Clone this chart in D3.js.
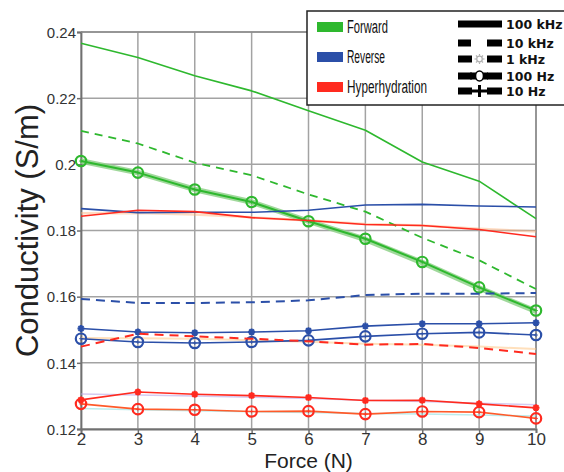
<!DOCTYPE html>
<html>
<head>
<meta charset="utf-8">
<script src="https://cdn.jsdelivr.net/npm/d3@7"></script>
<style>
  html, body { margin: 0; padding: 0; background: #fff; }
  svg { display: block; }
</style>
</head>
<body>
<svg id="chart" width="564" height="472"></svg>
<script>
// ---------- data ----------
const forces = [2, 3, 4, 5, 6, 7, 8, 9, 10];
const yTicks = [0.12, 0.14, 0.16, 0.18, 0.20, 0.22, 0.24];
const yTickLabels = ["0.12", "0.14", "0.16", "0.18", "0.2", "0.22", "0.24"];
const legendGroups = ["Forward", "Reverse", "Hyperhydration"];
const legendFreqs = ["100 kHz", "10 kHz", "1 kHz", "100 Hz", "10 Hz"];

// Forward (green)
const fwd100k = [0.2366, 0.2323, 0.2268, 0.2222, 0.2162, 0.2103, 0.2007, 0.1949, 0.1836];
const fwd10k  = [0.2101, 0.2063, 0.2005, 0.1967, 0.1909, 0.1857, 0.1778, 0.1710, 0.1623];
const fwd1k   = [0.2010, 0.1975, 0.1924, 0.1886, 0.1828, 0.1773, 0.1703, 0.1626, 0.1556];
const fwd100  = [0.2010, 0.1975, 0.1924, 0.1886, 0.1828, 0.1775, 0.1705, 0.1628, 0.1558];
// Reverse (blue)
const rev100k = [0.1866, 0.1854, 0.1855, 0.1855, 0.1861, 0.1877, 0.1879, 0.1874, 0.1871];
const rev10k  = [0.1593, 0.1581, 0.1581, 0.1583, 0.1589, 0.1605, 0.1609, 0.1609, 0.1611];
const rev100  = [0.1473, 0.1463, 0.1460, 0.1463, 0.1468, 0.1480, 0.1488, 0.1492, 0.1484];
const rev10   = [0.1504, 0.1493, 0.1491, 0.1493, 0.1497, 0.1511, 0.1518, 0.1518, 0.1521];
// Hyperhydration (red)
const hyp100k = [0.1843, 0.1861, 0.1857, 0.1839, 0.1830, 0.1818, 0.1815, 0.1803, 0.1781];
const hyp10k  = [0.1449, 0.1488, 0.1480, 0.1473, 0.1465, 0.1455, 0.1457, 0.1445, 0.1427];
const hyp100  = [0.1276, 0.1260, 0.1258, 0.1253, 0.1254, 0.1245, 0.1253, 0.1251, 0.1232];
const hyp10   = [0.1288, 0.1312, 0.1305, 0.1301, 0.1295, 0.1286, 0.1287, 0.1276, 0.1264];
// faint background traces
const faintPeachHigh = [0.1852, 0.1853, 0.1848, 0.1840, 0.1830, 0.1820, 0.1815, 0.1805, 0.1797];
const faintPeachMid  = [0.1475, 0.1474, 0.1473, 0.1468, 0.1464, 0.1458, 0.1455, 0.1449, 0.1442];
const faintPurple    = [0.1306, 0.1303, 0.1300, 0.1296, 0.1292, 0.1287, 0.1283, 0.1278, 0.1273];
const faintCyan      = [0.1262, 0.1258, 0.1255, 0.1252, 0.1250, 0.1247, 0.1245, 0.1242, 0.1239];

// ---------- layout ----------
const svg = d3.select("#chart");
const pLeft = 81, pRight = 536, pTop = 32, pBottom = 429;
const x = d3.scaleLinear().domain([2, 10]).range([pLeft, pRight]);
const y = d3.scaleLinear().domain([0.12, 0.24]).range([pBottom, pTop]);

const GREEN = "#2eb82e", BLUE = "#2b4fa8", RED = "#ff2a1f";

// grid
const grid = svg.append("g");
grid.selectAll("line.vg").data(forces).join("line")
  .attr("x1", d => x(d)).attr("x2", d => x(d))
  .attr("y1", pTop).attr("y2", pBottom)
  .attr("stroke", "#a3a3a3").attr("stroke-width", 1.5);
grid.selectAll("line.hg").data(yTicks).join("line")
  .attr("x1", pLeft).attr("x2", pRight)
  .attr("y1", d => y(d)).attr("y2", d => y(d))
  .attr("stroke", "#a3a3a3").attr("stroke-width", 1.5);

// axes
const xAxis = svg.append("g").attr("transform", `translate(0,${pBottom})`)
  .call(d3.axisBottom(x).tickValues(forces).tickFormat(d3.format("d")).tickSize(4).tickPadding(0));
const yAxis = svg.append("g").attr("transform", `translate(${pLeft},0)`)
  .call(d3.axisLeft(y).tickValues(yTicks).tickFormat((d, i) => yTickLabels[i]).tickSize(4).tickPadding(1));
[xAxis, yAxis].forEach(a => {
  a.select(".domain").attr("stroke", "#707070").attr("stroke-width", 1.8);
  a.selectAll(".tick line").attr("stroke", "#707070").attr("stroke-width", 1.5);
});
xAxis.selectAll(".tick text").attr("font-family", "Liberation Sans, Arial, sans-serif")
  .attr("font-size", 17).attr("fill", "#333").attr("dy", "0.68em");
yAxis.selectAll(".tick text").attr("font-family", "Liberation Sans, Arial, sans-serif")
  .attr("font-size", 15).attr("fill", "#333").attr("dy", "0.35em");
// top & right border
svg.append("line").attr("x1", pLeft).attr("x2", pRight).attr("y1", pTop).attr("y2", pTop)
  .attr("stroke", "#8a8a8a").attr("stroke-width", 1.5);
svg.append("line").attr("x1", pRight).attr("x2", pRight).attr("y1", pTop).attr("y2", pBottom)
  .attr("stroke", "#8a8a8a").attr("stroke-width", 1.5);

// axis titles
svg.append("text").attr("x", (pLeft + pRight) / 2).attr("y", 468)
  .attr("text-anchor", "middle").attr("font-family", "Liberation Sans, Arial, sans-serif")
  .attr("font-size", 21).attr("fill", "#222").text("Force (N)");
svg.append("text").attr("transform", `translate(38,${(pTop + pBottom) / 2}) rotate(-90)`)
  .attr("text-anchor", "middle").attr("font-family", "Liberation Sans, Arial, sans-serif")
  .attr("font-size", 31).attr("fill", "#222").text("Conductivity (S/m)");

// ---------- series ----------
const line = d3.line().x((d, i) => x(forces[i])).y(d => y(d));
const plot = svg.append("g");

function drawLine(values, color, width, dash, opacity) {
  plot.append("path").datum(values).attr("d", line)
    .attr("fill", "none").attr("stroke", color).attr("stroke-width", width)
    .attr("stroke-dasharray", dash || null).attr("opacity", opacity == null ? 1 : opacity)
    .attr("stroke-linejoin", "round");
}
function drawCircles(values, color) {
  plot.append("g").selectAll("circle").data(values).join("circle")
    .attr("cx", (d, i) => x(forces[i])).attr("cy", d => y(d)).attr("r", 5.2)
    .attr("fill", "none").attr("stroke", color).attr("stroke-width", 2.2);
  plot.append("g").selectAll("path").data(values).join("path")
    .attr("d", (d, i) => { const cx = x(forces[i]), cy = y(d);
      return `M${cx - 2},${cy}H${cx + 2}M${cx},${cy - 2}V${cy + 2}`; })
    .attr("stroke", color).attr("stroke-width", 1).attr("opacity", 0.8);
}
function drawStars(values, color) {
  plot.append("g").selectAll("path").data(values).join("path")
    .attr("d", (d, i) => { const cx = x(forces[i]), cy = y(d), r = 3.5, s = 2.5;
      return `M${cx - r},${cy}H${cx + r}M${cx},${cy - r}V${cy + r}M${cx - s},${cy - s}L${cx + s},${cy + s}M${cx - s},${cy + s}L${cx + s},${cy - s}`; })
    .attr("stroke", color).attr("stroke-width", 2);
}

// faint traces
drawLine(faintPeachHigh, "#ffb27a", 2.5, null, 0.45);
drawLine(faintPeachMid, "#ffc27a", 2, null, 0.5);
drawLine(faintPurple, "#b9a6e6", 1.5, null, 0.6);
drawLine(faintCyan, "#8fe0e0", 1.5, null, 0.6);

// Forward
drawLine(fwd100k, GREEN, 1.6);
drawLine(fwd10k, GREEN, 1.8, "8,6");
drawLine(fwd1k, "#8fd18a", 5.5, null, 0.85);
drawLine(fwd100, GREEN, 2);
drawCircles(fwd100, GREEN);
// Reverse
drawLine(rev100k, BLUE, 1.6);
drawLine(rev10k, BLUE, 2, "9,6");
drawLine(rev10, BLUE, 1.6);
drawStars(rev10, BLUE);
drawLine(rev100, BLUE, 1.6);
drawCircles(rev100, BLUE);
// Hyperhydration
drawLine(hyp100k, RED, 1.6);
drawLine(hyp10k, RED, 2, "9,6");
drawLine(hyp100, "#ff5a2a", 1.6);
drawCircles(hyp100, RED);
drawLine(hyp10, RED, 1.6);
drawStars(hyp10, RED);

// ---------- legend ----------
const lg = svg.append("g");
lg.append("rect").attr("x", 307).attr("y", 11).attr("width", 262).attr("height", 94)
  .attr("fill", "#fff").attr("stroke", "#222").attr("stroke-width", 1.5);
const groupColors = [GREEN, BLUE, RED];
const groupLens = [41, 38, 80];
legendGroups.forEach((g, i) => {
  const cy = 27 + i * 30;
  lg.append("rect").attr("x", 317).attr("y", cy - 5).attr("width", 26).attr("height", 10)
    .attr("fill", groupColors[i]);
  lg.append("text").attr("x", 347).attr("y", cy + 6)
    .attr("font-family", "Liberation Sans Narrow, Liberation Sans, Arial, sans-serif")
    .attr("font-size", 18).attr("fill", "#111")
    .attr("textLength", groupLens[i]).attr("lengthAdjust", "spacingAndGlyphs").text(g);
});
const fy = [24, 43, 59, 76, 91];
legendFreqs.forEach((f, i) => {
  const cy = fy[i];
  const gItem = lg.append("g");
  if (i === 0) {
    gItem.append("rect").attr("x", 458).attr("y", cy - 3.5).attr("width", 44).attr("height", 7).attr("fill", "#000");
  } else if (i === 1) {
    gItem.append("rect").attr("x", 458).attr("y", cy - 3.5).attr("width", 13).attr("height", 7).attr("fill", "#000");
    gItem.append("rect").attr("x", 487).attr("y", cy - 3.5).attr("width", 15).attr("height", 7).attr("fill", "#000");
  } else {
    gItem.append("rect").attr("x", 458).attr("y", cy - 3.5).attr("width", 14).attr("height", 7).attr("fill", "#000");
    gItem.append("rect").attr("x", 487).attr("y", cy - 3.5).attr("width", 15).attr("height", 7).attr("fill", "#000");
    if (i === 2) {
      gItem.append("circle").attr("cx", 479.5).attr("cy", cy).attr("r", 2.8)
        .attr("fill", "none").attr("stroke", "#b0b0b0").attr("stroke-width", 1.3);
      d3.range(8).forEach(k => {
        const a = k * Math.PI / 4;
        gItem.append("line").attr("x1", 479.5 + 3.3 * Math.cos(a)).attr("y1", cy + 3.3 * Math.sin(a))
          .attr("x2", 479.5 + 5 * Math.cos(a)).attr("y2", cy + 5 * Math.sin(a))
          .attr("stroke", "#b0b0b0").attr("stroke-width", 1.2);
      });
    } else if (i === 3) {
      gItem.append("rect").attr("x", 470).attr("y", cy - 3.5).attr("width", 18).attr("height", 7).attr("fill", "#000");
      gItem.append("ellipse").attr("cx", 479.5).attr("cy", cy).attr("rx", 4).attr("ry", 5)
        .attr("fill", "#fff").attr("stroke", "#000").attr("stroke-width", 1.6);
    } else {
      gItem.append("rect").attr("x", 470).attr("y", cy - 1.5).attr("width", 18).attr("height", 3).attr("fill", "#000");
      gItem.append("rect").attr("x", 478).attr("y", cy - 6).attr("width", 3).attr("height", 12).attr("fill", "#000");
    }
  }
  gItem.append("text").attr("x", 506).attr("y", cy + 5)
    .attr("font-family", "DejaVu Sans, Verdana, sans-serif").attr("font-weight", "bold")
    .attr("font-size", 12.5).attr("fill", "#111").text(f);
});
</script>
</body>
</html>
